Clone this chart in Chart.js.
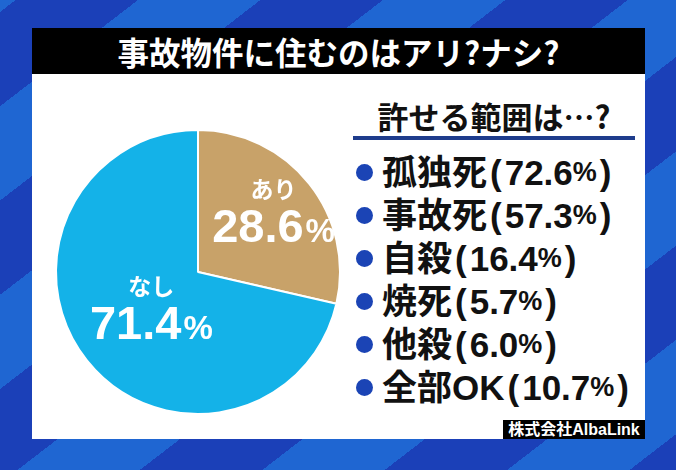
<!DOCTYPE html>
<html lang="ja">
<head>
<meta charset="utf-8">
<script src="https://cdn.jsdelivr.net/npm/chart.js@4/dist/chart.umd.min.js"></script>
<style>
  html, body { margin: 0; padding: 0; }
  body {
    width: 676px; height: 470px; overflow: hidden; position: relative;
    background: repeating-linear-gradient(142.4deg,
      #1f66d2 0px, #1f66d2 9.5px,
      #1b40b8 9.5px, #1b40b8 84.2px,
      #1f66d2 84.2px, #1f66d2 149.4px);
    font-family: "Liberation Sans", "Noto Sans CJK JP", sans-serif;
  }
  #panel { position: absolute; left: 32px; top: 28px; width: 613px; height: 411px; background: #fff; }
  #title {
    height: 46px; background: #000; color: #fff; text-align: center;
    font: bold 31.5px "Noto Sans CJK JP", sans-serif; line-height: 46px;
  }
  #pieBox { position: absolute; left: 48px; top: 122px; width: 300px; height: 300px; }
  #heading {
    position: absolute; left: 353px; top: 96px; width: 282px; text-align: center;
    font: bold 31px "Noto Sans CJK JP", sans-serif; color: #111; line-height: 40px;
    border-bottom: 4px solid #1e3c8c;
  }
  #list { position: absolute; left: 356px; top: 151px; margin: 0; padding: 0; list-style: none; }
  #list li {
    height: 43px; line-height: 43px; font-weight: bold; font-size: 35px; color: #111;
    white-space: nowrap; display: flex; align-items: center;
  }
  #list .dot { width: 17px; height: 17px; border-radius: 50%; background: #1b44b5; margin-right: 9px; flex: none; }
  #list .pc { font-size: 27px; }
  #list .par { margin: 0 3px; }
  #credit {
    position: absolute; left: 503px; top: 420px; width: 142px; height: 19px;
    background: #000; color: #fff; font-weight: bold; font-size: 16px; line-height: 19px; text-align: center;
  }
</style>
</head>
<body>
<div id="panel"><div id="title">事故物件に住むのはアリ?ナシ?</div></div>
<div id="pieBox"><canvas id="pie" width="300" height="300"></canvas></div>
<div id="heading">許せる範囲は…?</div>
<ul id="list"></ul>
<div id="credit">株式会社AlbaLink</div>
<script>
const answers = ["あり", "なし"];
const answerValues = [28.6, 71.4];
const reasons = ["孤独死", "事故死", "自殺", "焼死", "他殺", "全部OK"];
const reasonValues = [72.6, 57.3, 16.4, 5.7, 6.0, 10.7];

const list = document.getElementById("list");
reasons.forEach((r, i) => {
  const li = document.createElement("li");
  li.innerHTML = `<span class="dot"></span>${r}<span class="par">(</span>${reasonValues[i].toFixed(1)}<span class="pc">%</span><span class="par">)</span>`;
  list.appendChild(li);
});

// label position as a fraction of the radius, per slice
const labelFrac = [0.68, 0.42];

const sliceLabels = {
  id: "sliceLabels",
  afterDatasetsDraw(chart) {
    const ctx = chart.ctx;
    chart.getDatasetMeta(0).data.forEach((arc, i) => {
      const p = arc.getProps(["x", "y", "startAngle", "endAngle", "outerRadius"], true);
      const mid = (p.startAngle + p.endAngle) / 2;
      const r = p.outerRadius * labelFrac[i];
      const x = p.x + Math.cos(mid) * r;
      const y = p.y + Math.sin(mid) * r;
      ctx.save();
      ctx.fillStyle = "#fff";
      ctx.textAlign = "center";
      ctx.textBaseline = "middle";
      ctx.font = 'bold 23px "Noto Sans CJK JP", sans-serif';
      ctx.fillText(answers[i], x, y - 23);
      const num = answerValues[i].toFixed(1);
      const bigFont = 'bold 47px "Liberation Sans", sans-serif';
      const smallFont = 'bold 33px "Liberation Sans", sans-serif';
      ctx.font = bigFont;
      const w1 = ctx.measureText(num).width;
      ctx.font = smallFont;
      const w2 = ctx.measureText("%").width;
      const left = x - (w1 + w2 + 2) / 2;
      ctx.textAlign = "left";
      ctx.textBaseline = "alphabetic";
      ctx.font = bigFont;
      ctx.fillText(num, left, y + 30);
      ctx.font = smallFont;
      ctx.fillText("%", left + w1 + 2, y + 30);
      ctx.restore();
    });
  }
};

new Chart(document.getElementById("pie"), {
  type: "pie",
  data: {
    labels: answers,
    datasets: [{
      data: answerValues,
      backgroundColor: ["#c8a269", "#14b2e8"],
      borderColor: "#ffffff",
      borderWidth: 2
    }]
  },
  options: {
    responsive: false,
    animation: false,
    radius: 142,
    layout: { padding: 0 },
    plugins: { legend: { display: false }, tooltip: { enabled: false } }
  },
  plugins: [sliceLabels]
});
</script>
</body>
</html>
